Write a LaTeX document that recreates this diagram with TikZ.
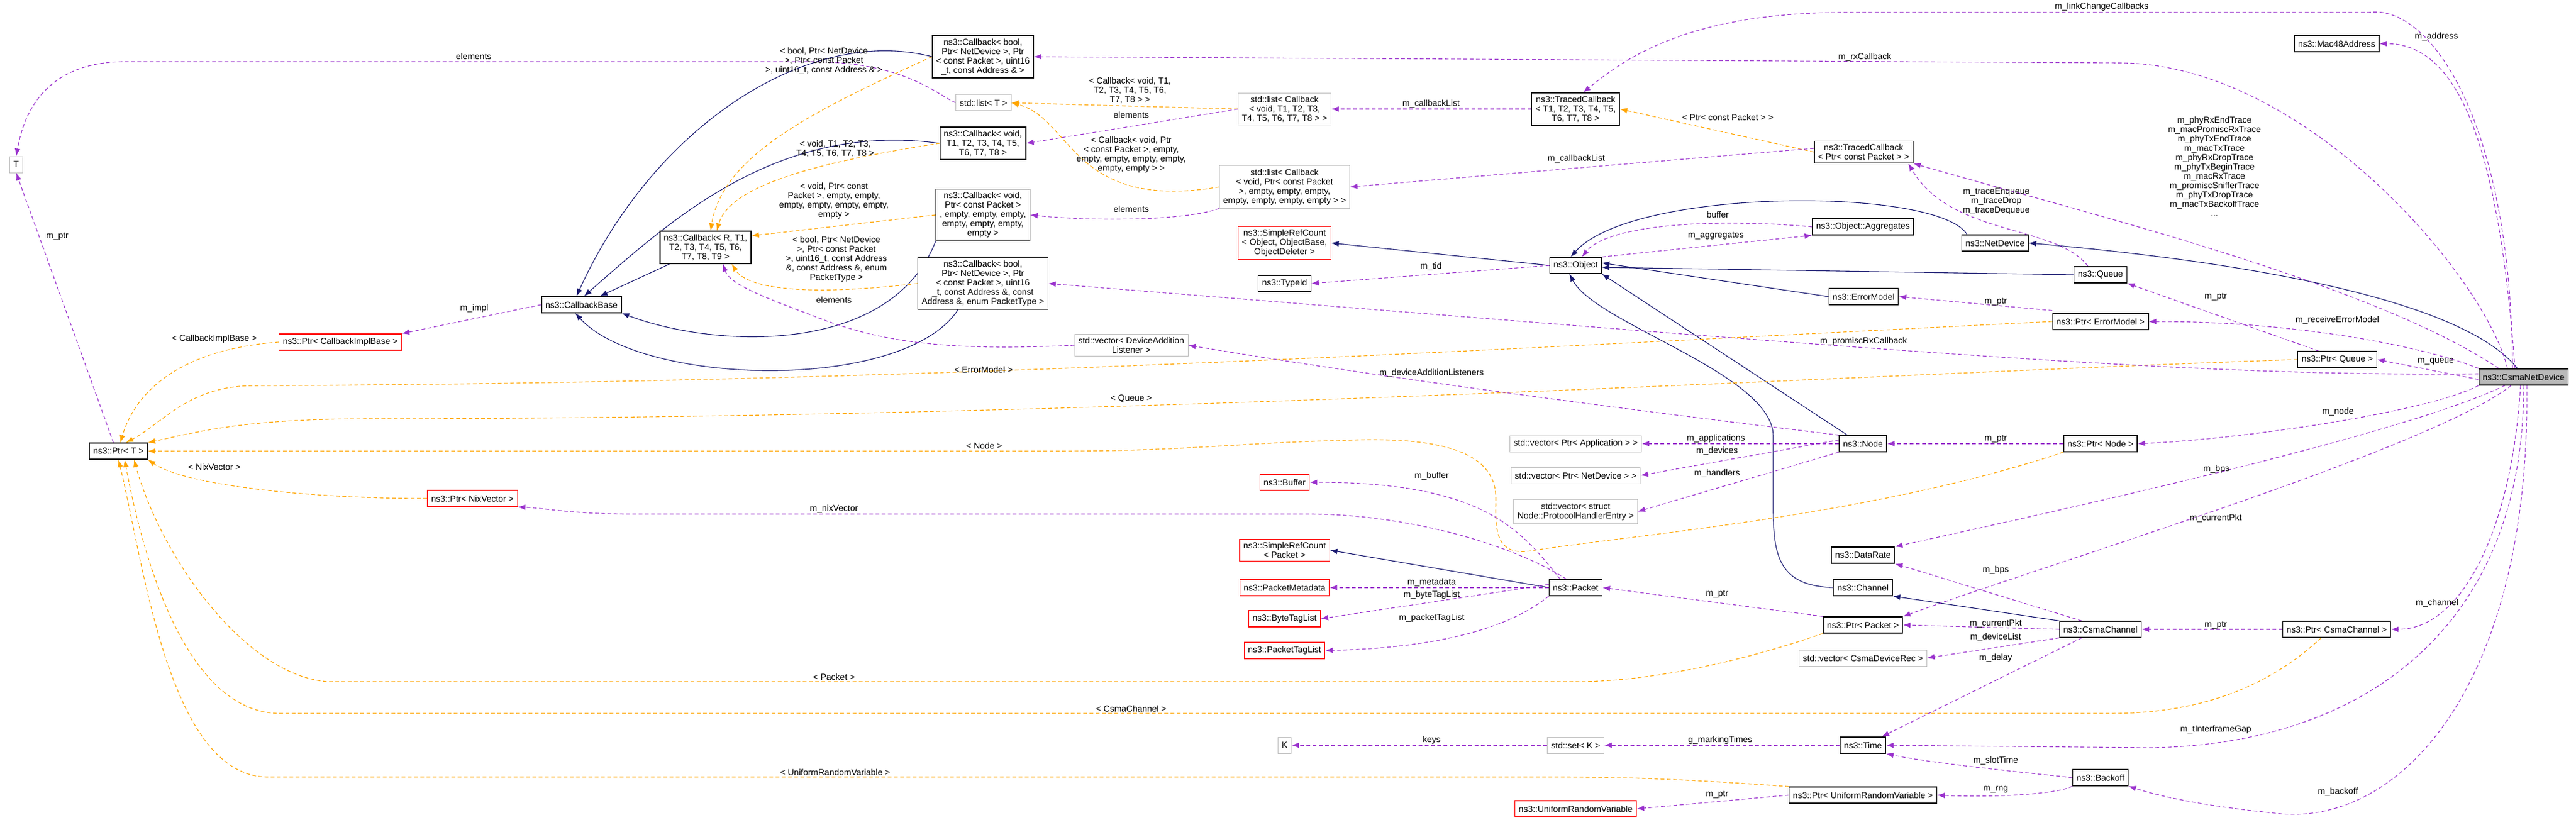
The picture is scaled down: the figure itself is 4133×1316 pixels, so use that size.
\documentclass[tikz,border=0pt]{standalone}
\usepackage{fontspec}
\setmainfont{Liberation Sans}
\usetikzlibrary{arrows.meta,backgrounds}
\definecolor{inhc}{HTML}{191970}
\definecolor{usec}{HTML}{9A32CD}
\definecolor{tplc}{HTML}{FFA500}
\definecolor{grayb}{HTML}{BFBFBF}
\tikzset{
  box/.style={draw=black,line width=1.3pt,fill=white,align=center,inner xsep=6pt,inner ysep=5pt,minimum height=26pt,font=\fontsize{14}{15}\selectfont},
  redbox/.style={box,draw=red},
  graybox/.style={box,draw=grayb,line width=1pt},
  mainbox/.style={box,fill=gray!55},
  lbl/.style={align=center,inner sep=1pt,font=\fontsize{14}{15}\selectfont},
  inh/.style={draw=inhc,line width=1.1pt,-{Latex[length=12pt,width=9pt]}},
  use/.style={draw=usec,line width=1.1pt,dash pattern=on 6pt off 4pt,-{Latex[length=12pt,width=9pt]}},
  tpl/.style={draw=tplc,line width=1.1pt,dash pattern=on 6pt off 4pt,-{Latex[length=12pt,width=9pt]}},
}
\begin{document}
\begin{tikzpicture}[x=1pt,y=-1pt]
\useasboundingbox (0,0) rectangle (4133,1316);
% nodes
\node[graybox] (T) at (26,264) {T};
\node[box] (pT) at (190,724) {ns3::Ptr< T >};
\node[box] (cbb) at (933,489) {ns3::CallbackBase};
\node[redbox] (pcb) at (546,549) {ns3::Ptr< CallbackImplBase >};
\node[box] (cbR) at (1132,397) {ns3::Callback< R, T1,\\T2, T3, T4, T5, T6,\\T7, T8, T9 >};
\node[box] (cbA) at (1577,91) {ns3::Callback< bool,\\Ptr< NetDevice >, Ptr\\< const Packet >, uint16\\\_t, const Address \& >};
\node[graybox] (lT) at (1578,165) {std::list< T >};
\node[box] (cbVT) at (1577,230) {ns3::Callback< void,\\T1, T2, T3, T4, T5,\\T6, T7, T8 >};
\node[box] (cbVP) at (1577,345) {ns3::Callback< void,\\Ptr< const Packet >\\, empty, empty, empty,\\empty, empty, empty,\\empty >};
\node[box] (cbE) at (1577,455) {ns3::Callback< bool,\\Ptr< NetDevice >, Ptr\\< const Packet >, uint16\\\_t, const Address \&, const\\Address \&, enum PacketType >};
\node[graybox] (l1) at (2061,175) {std::list< Callback\\< void, T1, T2, T3,\\T4, T5, T6, T7, T8 > >};
\node[graybox] (l2) at (2061,300) {std::list< Callback\\< void, Ptr< const Packet\\>, empty, empty, empty,\\empty, empty, empty, empty > >};
\node[box] (tc) at (2528,175) {ns3::TracedCallback\\< T1, T2, T3, T4, T5,\\T6, T7, T8 >};
\node[redbox] (src) at (2061,390) {ns3::SimpleRefCount\\< Object, ObjectBase,\\ObjectDeleter >};
\node[box] (tid) at (2061,455) {ns3::TypeId};
\node[box] (obj) at (2528,426) {ns3::Object};
\node[graybox] (vdal) at (1815,554) {std::vector< DeviceAddition\\Listener >};
\node[box] (mac) at (3749,70) {ns3::Mac48Address};
\node[box] (tcp) at (2990,244) {ns3::TracedCallback\\< Ptr< const Packet > >};
\node[box] (agg) at (2989,364) {ns3::Object::Aggregates};
\node[box] (nd) at (3201,390) {ns3::NetDevice};
\node[box] (q) at (3370,441) {ns3::Queue};
\node[box] (em) at (2990,476) {ns3::ErrorModel};
\node[box] (pem) at (3370,516) {ns3::Ptr< ErrorModel >};
\node[box] (pq) at (3750,577) {ns3::Ptr< Queue >};
\node[mainbox] (csma) at (4049,605) {ns3::CsmaNetDevice};
\node[redbox] (pnix) at (758,800) {ns3::Ptr< NixVector >};
\node[graybox] (vapp) at (2528,712) {std::vector< Ptr< Application > >};
\node[graybox] (vnd) at (2528,763) {std::vector< Ptr< NetDevice > >};
\node[graybox] (vphe) at (2528,821) {std::vector< struct\\Node::ProtocolHandlerEntry >};
\node[redbox] (buf) at (2061,774) {ns3::Buffer};
\node[redbox] (srcp) at (2061,883) {ns3::SimpleRefCount\\< Packet >};
\node[redbox] (pm) at (2061,943) {ns3::PacketMetadata};
\node[redbox] (btl) at (2061,993) {ns3::ByteTagList};
\node[redbox] (ptl) at (2061,1044) {ns3::PacketTagList};
\node[box] (pk) at (2528,943) {ns3::Packet};
\node[graybox] (K) at (2061,1196) {K};
\node[graybox] (setK) at (2528,1196) {std::set< K >};
\node[redbox] (urv) at (2528,1298) {ns3::UniformRandomVariable};
\node[box] (node) at (2989,712) {ns3::Node};
\node[box] (pn) at (3370,712) {ns3::Ptr< Node >};
\node[box] (dr) at (2989,891) {ns3::DataRate};
\node[box] (ch) at (2989,943) {ns3::Channel};
\node[box] (pp) at (2989,1003) {ns3::Ptr< Packet >};
\node[box] (cc) at (3370,1010) {ns3::CsmaChannel};
\node[graybox] (vcdr) at (2989,1056) {std::vector< CsmaDeviceRec >};
\node[box] (pcc) at (3749,1010) {ns3::Ptr< CsmaChannel >};
\node[box] (time) at (2989,1196) {ns3::Time};
\node[box] (bo) at (3370,1248) {ns3::Backoff};
\node[box] (purv) at (2989,1276) {ns3::Ptr< UniformRandomVariable >};

\begin{pgfonlayer}{background}
% inheritance
\draw[inh] (cbR) -- (cbb);
\draw[inh] (cbA.west) .. controls (1300,40) and (1050,200) .. ([xshift=-8pt]cbb.north);
\draw[inh] (cbVT.west) .. controls (1250,195) and (1080,350) .. ([xshift=4pt]cbb.north);
\draw[inh] (cbVP.south west) .. controls (1430,570) and (1150,560) .. (cbb.south east);
\draw[inh] ([xshift=-40pt]cbE.south) .. controls (1450,630) and (1030,620) .. ([xshift=-10pt]cbb.south);
\draw[inh] (obj.west) -- (src.east);
\draw[inh] ([xshift=-45pt]nd.north) .. controls (3110,300) and (2620,300) .. ([xshift=-8pt]obj.north);
\draw[inh] (q.west) -- ([yshift=-3pt]obj.east);
\draw[inh] (em.west) -- ([yshift=4pt]obj.east);
\draw[inh] ([xshift=-25pt]node.north) -- (obj.south east);
\draw[inh] (ch.west) .. controls (2860,940) and (2845,900) .. (2845,820) -- (2845,700) .. controls (2845,600) and (2560,520) .. ([xshift=-10pt]obj.south);
\draw[inh] ([xshift=-10pt]csma.north) .. controls (3950,480) and (3600,420) .. (nd.east);
\draw[inh] (pk.west) -- (srcp.east);
\draw[inh] (cc.north west) -- (ch.south east);

% templates
\draw[tpl] (cbA.west) .. controls (1300,180) and (1160,250) .. ([xshift=8pt]cbR.north);
\draw[tpl] (cbVT.west) .. controls (1300,262) and (1170,300) .. ([xshift=18pt]cbR.north);
\draw[tpl] (cbVP.west) -- ([yshift=-8pt]cbR.north east);
\draw[tpl] (cbE.west) .. controls (1300,475) and (1200,465) .. ([xshift=42pt]cbR.south);
\draw[tpl] (l1.west) -- (lT.east);
\draw[tpl] (l2.west) .. controls (1720,340) and (1720,190) .. (lT.east);
\draw[tpl] (tcp.west) -- (tc.east);
\draw[tpl] (pcb.west) .. controls (300,560) and (220,620) .. ([xshift=3pt]pT.north);
\draw[tpl] (pem.west) .. controls (2400,560) and (1500,615) .. (400,619) .. controls (300,622) and (260,680) .. ([xshift=12pt]pT.north);
\draw[tpl] (pq.west) .. controls (3000,600) and (1800,672) .. (600,672) .. controls (400,672) and (330,690) .. (pT.north east);
\draw[tpl] (pn.south west) .. controls (3000,830) and (2600,860) .. (2450,885) .. controls (2395,890) and (2400,840) .. (2400,800) .. controls (2400,720) and (2300,700) .. (2150,707) .. controls (2000,710) and (1900,724) .. (1700,724) -- (pT.east);
\draw[tpl] (pnix.west) .. controls (500,800) and (300,780) .. (pT.south east);
\draw[tpl] (pp.south west) .. controls (2800,1060) and (2650,1094) .. (2530,1094) -- (530,1094) .. controls (400,1090) and (260,900) .. ([xshift=25pt]pT.south);
\draw[tpl] ([xshift=-25pt]pcc.south) .. controls (3600,1140) and (3450,1145) .. (3380,1145) -- (450,1145) .. controls (300,1145) and (230,900) .. ([xshift=10pt]pT.south);
\draw[tpl] (purv.north west) .. controls (2700,1250) and (2600,1247) .. (2500,1247) -- (430,1247) .. controls (270,1247) and (230,900) .. (pT.south);

% usage
\draw[use] (lT.west) .. controls (1500,150) and (1450,99) .. (1300,99) -- (200,99) .. controls (60,99) and (35,200) .. (T.north);
\draw[use] ([xshift=-8pt]pT.north) -- (T.south);
\draw[use] (cbb.west) -- (pcb.north east);
\draw[use] (l1.west) -- (cbVT.east);
\draw[use] (l2.south west) .. controls (1900,355) and (1750,355) .. (cbVP.east);
\draw[use] (vdal.west) .. controls (1500,565) and (1400,545) .. (1300,505) .. controls (1220,475) and (1170,455) .. ([xshift=28pt]cbR.south);
\draw[use] (tc.west) -- (l1.east);
\draw[use] ([yshift=6pt]tcp.west) -- (l2.east);
\draw[use] ([xshift=-18pt]csma.north) .. controls (4030,200) and (3900,5) .. (3800,20) -- (2960,20) .. controls (2700,20) and (2600,100) .. ([xshift=12pt]tc.north);
\draw[use] ([xshift=-14pt]csma.north) .. controls (4010,250) and (3950,70) .. (mac.east);
\draw[use] ([xshift=-26pt]csma.north) .. controls (3990,450) and (3700,101) .. (3400,101) -- (cbA.east);
\draw[use] ([xshift=-40pt]csma.north) .. controls (3800,450) and (3300,330) .. (tcp.south east);
\draw[use] ([xshift=-20pt]q.north) .. controls (3300,360) and (3130,380) .. ([xshift=-8pt]tcp.south east);
\draw[use] (obj.west) -- (tid.east);
\draw[use] (obj.north east) -- (agg.south west);
\draw[use] (agg.west) .. controls (2750,350) and (2580,360) .. ([xshift=10pt]obj.north);
\draw[use] ([yshift=4pt]pem.north west) -- (em.east);
\draw[use] ([xshift=-30pt]pq.north) -- (q.south east);
\draw[use] (csma.north west) .. controls (3900,560) and (3700,516) .. (pem.east);
\draw[use] ([yshift=5pt]csma.west) .. controls (3500,605) and (3000,560) .. (cbE.east);
\draw[use] ([yshift=-4pt]csma.west) -- (pq.east);
\draw[use] (node.north west) .. controls (2800,680) and (2300,620) .. (vdal.east);
\draw[use] (node.west) -- (vapp.east);
\draw[use] ([yshift=6pt]node.west) -- (vnd.east);
\draw[use] (node.south west) -- (vphe.east);
\draw[use] (pn.west) -- (node.east);
\draw[use] (csma.south west) .. controls (3900,660) and (3600,705) .. (pn.east);
\draw[use] ([xshift=-30pt]csma.south) .. controls (3850,700) and (3300,820) .. (dr.north east);
\draw[use] ([xshift=-20pt]csma.south) .. controls (3900,720) and (3300,900) .. (pp.north east);
\draw[use] ([xshift=-25pt]pk.north) .. controls (2440,850) and (2380,774) .. (buf.east);
\draw[use] (pk.west) -- (pm.east);
\draw[use] ([yshift=5pt]pk.west) -- (btl.east);
\draw[use] (pk.south west) .. controls (2420,1010) and (2300,1040) .. (ptl.east);
\draw[use] ([xshift=-15pt]pk.north) .. controls (2420,870) and (2250,825) .. (2100,825) -- (1010,825) .. controls (920,825) and (870,815) .. (pnix.south east);
\draw[use] (pp.north west) -- (pk.east);
\draw[use] ([xshift=-30pt]cc.north) -- (dr.south east);
\draw[use] (cc.west) -- (pp.east);
\draw[use] (cc.south west) -- (vcdr.east);
\draw[use] ([xshift=-30pt]cc.south) -- ([xshift=30pt]time.north);
\draw[use] (pcc.west) -- (cc.east);
\draw[use] ([xshift=-5pt]csma.south) .. controls (4030,850) and (3950,1010) .. (pcc.east);
\draw[use] (csma.south) .. controls (4050,1000) and (3800,1195) .. (3450,1200) -- (time.east);
\draw[use] ([xshift=5pt]csma.south) .. controls (4060,1100) and (3850,1330) .. (3650,1305) .. controls (3550,1295) and (3470,1280) .. (bo.south east);
\draw[use] (setK.west) -- (K.east);
\draw[use] (time.west) -- (setK.east);
\draw[use] (bo.west) .. controls (3250,1240) and (3100,1225) .. (time.south east);
\draw[use] (bo.south west) .. controls (3300,1275) and (3200,1280) .. (purv.east);
\draw[use] (purv.west) -- (urv.east);
\end{pgfonlayer}

% labels
\node[lbl] (a1) at (760,90) {elements};
\node[lbl] (a2) at (92,379) {m\_ptr};
\node[lbl] (a3) at (761,495) {m\_impl};
\node[lbl] (a4) at (344,544) {< CallbackImplBase >};
\node[lbl] (a5) at (1322,98) {< bool, Ptr< NetDevice\\>, Ptr< const Packet\\>, uint16\_t, const Address \& >};
\node[lbl] (a6) at (1340,239) {< void, T1, T2, T3,\\T4, T5, T6, T7, T8 >};
\node[lbl] (a7) at (1338,322) {< void, Ptr< const\\Packet >, empty, empty,\\empty, empty, empty, empty,\\empty >};
\node[lbl] (a8) at (1342,416) {< bool, Ptr< NetDevice\\>, Ptr< const Packet\\>, uint16\_t, const Address\\\&, const Address \&, enum\\PacketType >};
\node[lbl] (a9) at (1338,481) {elements};
\node[lbl] (b1) at (1813,145) {< Callback< void, T1,\\T2, T3, T4, T5, T6,\\T7, T8 > >};
\node[lbl] (b2) at (1815,184) {elements};
\node[lbl] (b3) at (1815,248) {< Callback< void, Ptr\\< const Packet >, empty,\\empty, empty, empty, empty,\\empty, empty > >};
\node[lbl] (b4) at (1815,335) {elements};
\node[lbl] (b5) at (2296,167) {m\_callbackList};
\node[lbl] (b6) at (2529,255) {m\_callbackList};
\node[lbl] (b7) at (2296,428) {m\_tid};
\node[lbl] (b8) at (2756,344) {buffer};
\node[lbl] (b9) at (2753,378) {m\_aggregates};
\node[lbl] (b10) at (1578,593) {< ErrorModel >};
\node[lbl] (b11) at (2297,599) {m\_deviceAdditionListeners};
\node[lbl] (b12) at (1815,640) {< Queue >};
\node[lbl] (b13) at (2772,188) {< Ptr< const Packet > >};
\node[lbl] (c1) at (3372,11) {m\_linkChangeCallbacks};
\node[lbl] (c2) at (3909,59) {m\_address};
\node[lbl] (c3) at (2992,92) {m\_rxCallback};
\node[lbl] (c4) at (3553,267) {m\_phyRxEndTrace\\m\_macPromiscRxTrace\\m\_phyTxEndTrace\\m\_macTxTrace\\m\_phyRxDropTrace\\m\_phyTxBeginTrace\\m\_macRxTrace\\m\_promiscSnifferTrace\\m\_phyTxDropTrace\\m\_macTxBackoffTrace\\...};
\node[lbl] (c5) at (3203,323) {m\_traceEnqueue\\m\_traceDrop\\m\_traceDequeue};
\node[lbl] (c6) at (3555,476) {m\_ptr};
\node[lbl] (c7) at (3202,484) {m\_ptr};
\node[lbl] (c8) at (3750,514) {m\_receiveErrorModel};
\node[lbl] (c9) at (2990,548) {m\_promiscRxCallback};
\node[lbl] (c10) at (3908,580) {m\_queue};
\node[lbl] (d1) at (344,749) {< NixVector >};
\node[lbl] (d2) at (1338,817) {m\_nixVector};
\node[lbl] (d3) at (1338,1086) {< Packet >};
\node[lbl] (d4) at (1340,1239) {< UniformRandomVariable >};
\node[lbl] (e1) at (1579,715) {< Node >};
\node[lbl] (e2) at (2297,764) {m\_buffer};
\node[lbl] (e3) at (2297,935) {m\_metadata};
\node[lbl] (e4) at (2297,955) {m\_byteTagList};
\node[lbl] (e5) at (2297,992) {m\_packetTagList};
\node[lbl] (e6) at (1815,1137) {< CsmaChannel >};
\node[lbl] (e7) at (2297,1188) {keys};
\node[lbl] (e8) at (2753,704) {m\_applications};
\node[lbl] (e9) at (2755,724) {m\_devices};
\node[lbl] (e10) at (2755,760) {m\_handlers};
\node[lbl] (e11) at (2755,953) {m\_ptr};
\node[lbl] (e12) at (2755,1275) {m\_ptr};
\node[lbl] (e13) at (2760,1188) {g\_markingTimes};
\node[lbl] (f1) at (3751,661) {m\_node};
\node[lbl] (f2) at (3202,704) {m\_ptr};
\node[lbl] (f3) at (3556,753) {m\_bps};
\node[lbl] (f4) at (3555,832) {m\_currentPkt};
\node[lbl] (f5) at (3202,915) {m\_bps};
\node[lbl] (f6) at (3910,968) {m\_channel};
\node[lbl] (f7) at (3202,1001) {m\_currentPkt};
\node[lbl] (f8) at (3555,1003) {m\_ptr};
\node[lbl] (f9) at (3202,1023) {m\_deviceList};
\node[lbl] (f10) at (3202,1056) {m\_delay};
\node[lbl] (f11) at (3555,1171) {m\_tInterframeGap};
\node[lbl] (f12) at (3202,1221) {m\_slotTime};
\node[lbl] (f13) at (3202,1267) {m\_rng};
\node[lbl] (f14) at (3751,1271) {m\_backoff};
\end{tikzpicture}
\end{document}
